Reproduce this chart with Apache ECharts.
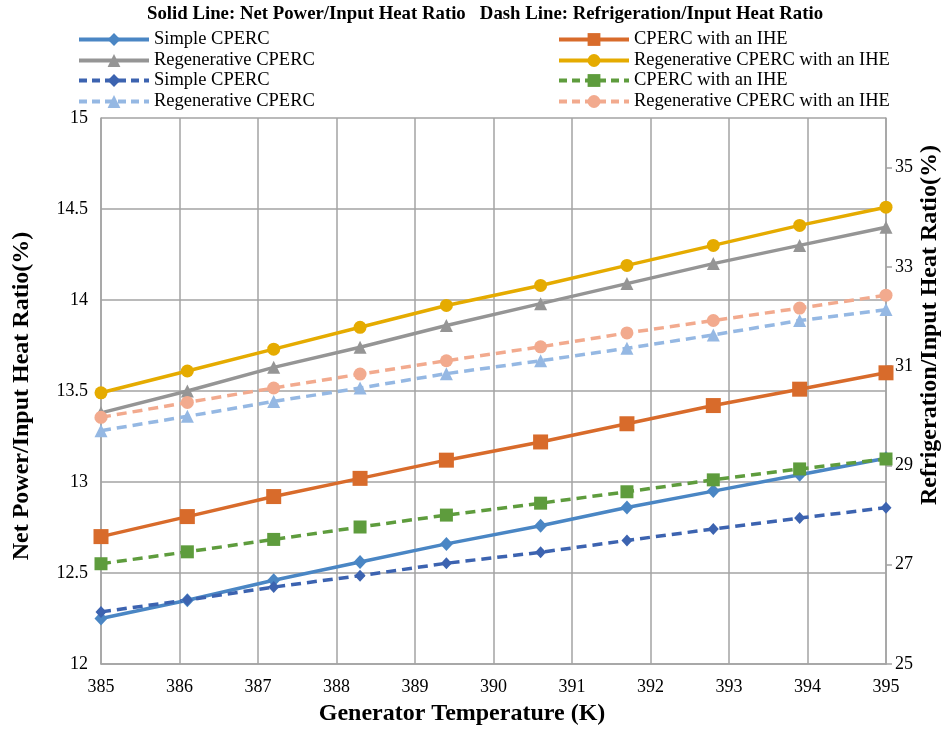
<!DOCTYPE html>
<html>
<head>
<meta charset="utf-8">
<script src="https://cdn.jsdelivr.net/npm/echarts@6/dist/echarts.min.js"></script>
<style>
html,body{margin:0;padding:0;background:#fff;}
#chart{width:943px;height:729px;}
</style>
</head>
<body>
<div id="chart"></div>
<script>
// Generator temperature (K)
var temps = [385, 386.1, 387.2, 388.3, 389.4, 390.6, 391.7, 392.8, 393.9, 395];
// Net power / input heat ratio (%) - solid lines, left axis
var netSimple   = [12.25, 12.35, 12.46, 12.56, 12.66, 12.76, 12.86, 12.95, 13.04, 13.13];
var netRegen    = [13.38, 13.50, 13.63, 13.74, 13.86, 13.98, 14.09, 14.20, 14.30, 14.40];
var netIHE      = [12.70, 12.81, 12.92, 13.02, 13.12, 13.22, 13.32, 13.42, 13.51, 13.60];
var netRegenIHE = [13.49, 13.61, 13.73, 13.85, 13.97, 14.08, 14.19, 14.30, 14.41, 14.51];
// Refrigeration / input heat ratio (%) - dashed lines, right axis
var refSimple   = [26.05, 26.29, 26.55, 26.78, 27.03, 27.25, 27.49, 27.72, 27.94, 28.15];
var refRegen    = [29.70, 29.99, 30.29, 30.56, 30.85, 31.11, 31.36, 31.63, 31.92, 32.14];
var refIHE      = [27.02, 27.26, 27.51, 27.76, 28.00, 28.24, 28.47, 28.71, 28.93, 29.13];
var refRegenIHE = [29.97, 30.27, 30.56, 30.84, 31.11, 31.39, 31.67, 31.92, 32.17, 32.43];

var names = ['Simple CPERC', 'Regenerative CPERC', 'CPERC with an IHE', 'Regenerative CPERC with an IHE'];
var DASH = ' \u00b7dash';

var FONT = 'Liberation Serif';
function pairs(ys){ return temps.map(function(t,i){ return [t, ys[i]]; }); }

function mk(name, ys, yAxisIndex, color, symbol, size, dashed){
  return {
    name: name, type: 'line', yAxisIndex: yAxisIndex, data: pairs(ys),
    symbol: symbol, symbolSize: size,
    itemStyle: {color: color},
    lineStyle: {color: color, width: 3.5, type: dashed ? [10, 6] : 'solid'},
    emphasis: {disabled: true}, animation: false
  };
}

var series = [
  mk(names[0], netSimple, 0, '#4A86C4', 'diamond', [13, 14], false),
  mk(names[1], netRegen, 0, '#959595', 'triangle', 13, false),
  mk(names[2], netIHE, 0, '#D86B2B', 'rect', 15, false),
  mk(names[3], netRegenIHE, 0, '#E5AB00', 'circle', 13, false),
  mk(names[0] + DASH, refSimple, 1, '#3C63B0', 'diamond', [11, 12], true),
  mk(names[1] + DASH, refRegen, 1, '#95B8E3', 'triangle', 13, true),
  mk(names[2] + DASH, refIHE, 1, '#5E9C3D', 'rect', 13, true),
  mk(names[3] + DASH, refRegenIHE, 1, '#F2AA8E', 'circle', 13, true)
];

function leg(name, left, top, dashed){
  return {
    data: [name], left: left, top: top, orient: 'horizontal',
    itemWidth: 70, itemHeight: 16, itemGap: 0, padding: 0,
    selectedMode: false,
    lineStyle: {width: 4, type: dashed ? [8, 5] : 'solid'},
    textStyle: {fontFamily: FONT, fontSize: 18.5, color: '#000', padding: [0,0,0,0]},
    formatter: function(n){ return n.replace(DASH, ''); }
  };
}

var GRID = '#A3A3A3';
var option = {
  backgroundColor: '#fff',
  animation: false,
  title: {
    text: 'Solid Line: Net Power/Input Heat Ratio   Dash Line: Refrigeration/Input Heat Ratio',
    left: 147, top: 5, padding: 0,
    textStyle: {fontFamily: FONT, fontSize: 18.8, fontWeight: 'bold', color: '#000'}
  },
  legend: [
    leg(names[0], 77, 30, false),
    leg(names[1], 77, 51, false),
    leg(names[0] + DASH, 77, 71, true),
    leg(names[1] + DASH, 77, 92, true),
    leg(names[2], 557, 30, false),
    leg(names[3], 557, 51, false),
    leg(names[2] + DASH, 557, 71, true),
    leg(names[3] + DASH, 557, 92, true)
  ],
  grid: {left: 101, right: 57, top: 118, bottom: 65, containLabel: false},
  xAxis: {
    type: 'value', min: 385, max: 395, interval: 1,
    axisLine: {show: true, lineStyle: {color: GRID, width: 1.5}},
    axisTick: {show: false},
    axisLabel: {fontFamily: FONT, fontSize: 18, color: '#000', margin: 14},
    splitLine: {show: true, lineStyle: {color: GRID, width: 1.5}}
  },
  yAxis: [
    {
      type: 'value', min: 12, max: 15, interval: 0.5, position: 'left',
      axisLine: {show: true, lineStyle: {color: GRID, width: 1.5}},
      axisTick: {show: false},
      axisLabel: {fontFamily: FONT, fontSize: 18, color: '#000', margin: 13},
      splitLine: {show: true, lineStyle: {color: GRID, width: 1.5}}
    },
    {
      type: 'value', min: 25, max: 36, interval: 2, position: 'right',
      axisLine: {show: true, lineStyle: {color: GRID, width: 1.5}},
      axisTick: {show: true, inside: false, length: 6, lineStyle: {color: GRID, width: 1.5}},
      axisLabel: {fontFamily: FONT, fontSize: 18, color: '#000', margin: 9, showMaxLabel: false},
      splitLine: {show: false}
    }
  ],
  graphic: [
    {type: 'text', x: 462, y: 714, style: {text: 'Generator Temperature (K)', font: 'bold 24px ' + FONT, fill: '#000', textAlign: 'center', textVerticalAlign: 'middle'}},
    {type: 'text', x: 22, y: 396, rotation: Math.PI / 2, style: {text: 'Net Power/Input Heat Ratio(%)', font: 'bold 24px ' + FONT, fill: '#000', textAlign: 'center', textVerticalAlign: 'middle'}},
    {type: 'text', x: 930, y: 325, rotation: Math.PI / 2, style: {text: 'Refrigeration/Input Heat Ratio(%)', font: 'bold 24px ' + FONT, fill: '#000', textAlign: 'center', textVerticalAlign: 'middle'}}
  ],
  series: series
};

var chart = echarts.init(document.getElementById('chart'), null, {renderer: 'canvas'});
chart.setOption(option);
</script>
</body>
</html>
